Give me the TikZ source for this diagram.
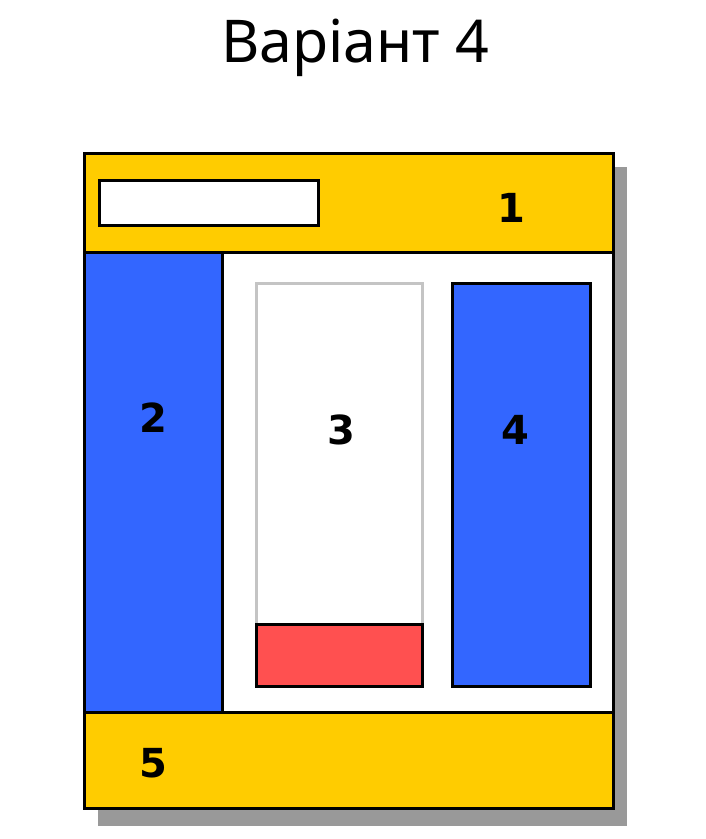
\documentclass[tikz,border=0pt]{standalone}
\usepackage{fontspec}
\setmainfont{Noto Sans}
\newfontfamily\labfont{DejaVu Sans}
\definecolor{ybar}{HTML}{FFCC00}
\definecolor{bbox}{HTML}{3366FF}
\definecolor{rbox}{HTML}{FF5050}
\definecolor{shad}{HTML}{999999}
\definecolor{gline}{HTML}{C4C4C4}
\begin{document}
\begin{tikzpicture}[x=1pt,y=-1pt,
  blk/.style={draw=black,line width=3pt},
  lab/.style={font=\labfont\bfseries\fontsize{40}{40}\selectfont,inner sep=0pt}]
\useasboundingbox (0,0) rectangle (706,839);
\fill[white] (0,0) rectangle (706,839);
\node[font=\fontsize{59}{59}\selectfont,anchor=base] (title) at (355,62) {Варіант 4};
% shadow
\fill[shad] (98,167) rectangle (627,826);
% outer white
\fill[white] (84,153) rectangle (613,808);
% top bar
\draw[blk,fill=ybar] (84,153) rectangle (613,252);
\draw[blk,fill=white] (99,180) rectangle (318,225);
\node[lab] (l1) at (511,208) {1};
% left blue
\draw[blk,fill=bbox] (84,252) rectangle (222,712);
\node[lab] (l2) at (153,418) {2};
% white area
\draw[blk,fill=white] (222,252) rectangle (613,712);
% box 3
\draw[draw=gline,line width=3pt,fill=white] (256,283) rectangle (422,686);
\draw[blk,fill=rbox] (256,624) rectangle (422,686);
\node[lab] (l3) at (341,430) {3};
% box 4
\draw[blk,fill=bbox] (452,283) rectangle (590,686);
\node[lab] (l4) at (515,430) {4};
% bottom bar
\draw[blk,fill=ybar] (84,712) rectangle (613,808);
\node[lab] (l5) at (153,763) {5};
\end{tikzpicture}
\end{document}
